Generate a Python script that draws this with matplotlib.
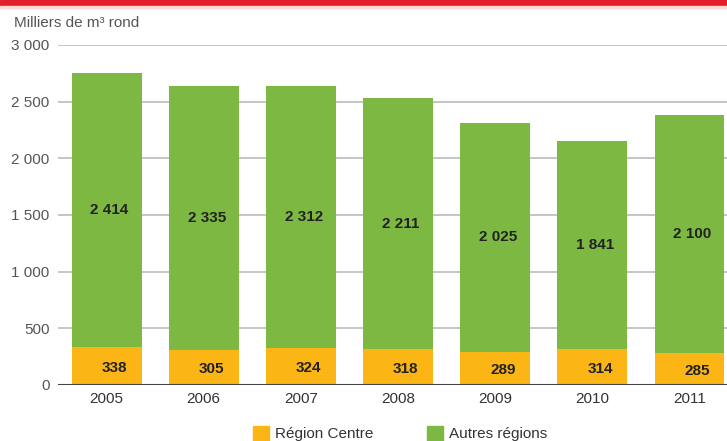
import matplotlib.pyplot as plt
from matplotlib.patches import Rectangle
import numpy as np

years = ["2005", "2006", "2007", "2008", "2009", "2010", "2011"]
centre = [338, 305, 324, 318, 289, 314, 285]
autres = [2414, 2335, 2312, 2211, 2025, 1841, 2100]
yticks = [0, 500, 1000, 1500, 2000, 2500, 3000]

ORANGE = "#FBB615"
GREEN = "#7DB942"
RED = "#E3202A"

plt.rcParams["font.family"] = ["Liberation Sans", "DejaVu Sans"]


def fmt(v):
    return f"{v:,}".replace(",", " ")


fig = plt.figure(figsize=(7.27, 4.41), dpi=100)
ax = fig.add_axes([58 / 727, 1 - 385 / 441, 1 - 58 / 727, 340 / 441])

x = np.arange(len(years))
ax.bar(x, centre, width=0.72, color=ORANGE, zorder=2)
ax.bar(x, autres, width=0.72, bottom=centre, color=GREEN, zorder=2)

for xi, c, a in zip(x, centre, autres):
    ax.text(xi + 0.08, c / 2 - 15, fmt(c), ha="center", va="center",
            fontsize=11, fontweight="bold", color="#222222", zorder=3)
    ax.text(xi + 0.03, c + a / 2, fmt(a), ha="center", va="center",
            fontsize=11, fontweight="bold", color="#222222", zorder=3)

ax.set_xlim(-0.5, 6 + (727 - 689.5) / 97.2)
ax.set_ylim(0, 3000)
ax.set_yticks(yticks)
ax.set_yticklabels([fmt(t) for t in yticks])
ax.set_xticks(x)
ax.set_xticklabels(years)
ax.tick_params(axis="both", length=0, labelsize=11, colors="#333333")
ax.tick_params(axis="y", pad=6, labelcolor="#555555")
ax.tick_params(axis="x", pad=5)

for t in yticks[1:]:
    ax.axhline(t, color="#BBBBBB", lw=1.2, zorder=1)
ax.axhline(0, color="#444444", lw=1.5, zorder=3)

for s in ax.spines.values():
    s.set_visible(False)

fig.text(14 / 727, 1 - 23 / 441, "Milliers de m³ rond", fontsize=11,
         color="#555555", ha="left", va="center")

# red band at top
fig.patches.append(Rectangle((0, 1 - 6 / 441), 1, 6 / 441, transform=fig.transFigure,
                             color=RED, zorder=0))
fig.patches.append(Rectangle((0, 1 - 8 / 441), 1, 2 / 441, transform=fig.transFigure,
                             color="#FBDAD6", zorder=0))

# legend
for lx, col, lab in [(253, ORANGE, "Région Centre"), (427, GREEN, "Autres régions")]:
    fig.patches.append(Rectangle((lx / 727, 1 - 441 / 441), 16 / 727, 15 / 441,
                                 transform=fig.transFigure, color=col))
    fig.text((lx + 22) / 727, 1 - 434 / 441, lab, fontsize=11, color="#333333",
             ha="left", va="center")

fig.savefig("out.png", dpi=100)
